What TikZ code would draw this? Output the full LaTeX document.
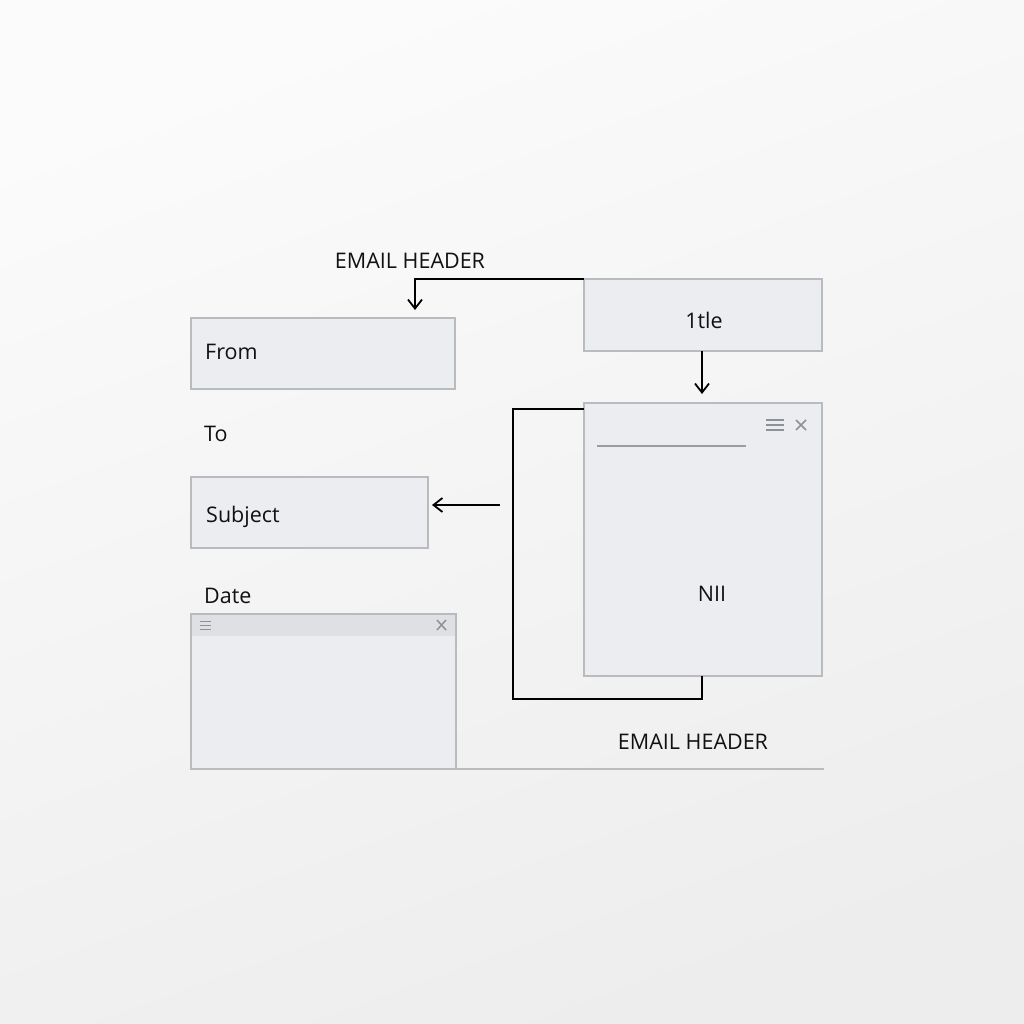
\documentclass[tikz,border=0pt]{standalone}
\usepackage{fontspec}
\setmainfont{Open Sans}
\usetikzlibrary{arrows.meta}
\definecolor{boxfill}{HTML}{EBEDF0}
\definecolor{boxline}{HTML}{B9BCBF}
\definecolor{barfill}{HTML}{DEE0E3}
\definecolor{iconc}{HTML}{8E9195}
\definecolor{textc}{HTML}{111111}
\tikzset{
  box/.style={draw=boxline, fill=boxfill, line width=1.2pt, inner sep=0pt},
  lbl/.style={text=textc, font=\fontsize{21.5}{25}\selectfont, inner sep=0pt},
  conn/.style={draw=black, line width=1.8pt},
  arr/.style={conn, -{Straight Barb[length=9pt,width=14pt,line width=1.8pt]}},
  icon/.style={draw=iconc, line width=1.5pt},
}
\begin{document}
\begin{tikzpicture}[x=1pt,y=-1pt]
\shade[top color=white!60!gray!8, bottom color=gray!14, shading angle=20]
  (0,0) rectangle (1024,1024);
\useasboundingbox (0,0) rectangle (1024,1024);
% labels
\node[lbl] (eh1) at (410,261) {EMAIL HEADER};
\node[lbl] (eh2) at (693,742) {EMAIL HEADER};
% title box
\draw[box] (584,279) rectangle (822,351);
\node[lbl] (title) at (704,320) {1tle};
\coordinate (titleTL) at (584,279);
\coordinate (titleB) at (702,351);
% from box
\draw[box] (191,318) rectangle (455,389);
\node[lbl, anchor=west] (from) at (205,352) {From};
\coordinate (fromT) at (415,310);
% To
\node[lbl, anchor=west] (to) at (204,434) {To};
% subject
\draw[box] (191,477) rectangle (428,548);
\node[lbl, anchor=west] (subj) at (206,517) {Subject};
\coordinate (subjR) at (432,505);
\coordinate (subjArrS) at (500,505);
% date
\node[lbl, anchor=west] (date) at (204,596) {Date};
% small window
\draw[box] (191,614) rectangle (456,769);
\fill[barfill] (191.6,614.6) rectangle (455.4,636);
\draw[icon, line width=1pt] (200,621) -- (211,621) (200,625) -- (211,625) (200,629) -- (211,629);
\draw[icon] (437,620) -- (446,630) (437,630) -- (446,620);
% bottom rule
\draw[draw=boxline, line width=1.5pt] (456,769) -- (824,769);
% big window
\draw[box] (584,403) rectangle (822,676);
\node[lbl] (nii) at (712,594) {NII};
\draw[draw=iconc!90, line width=1.6pt] (597,446) -- (746,446);
\draw[icon] (766,420) -- (784,420) (766,425) -- (784,425) (766,430) -- (784,430);
\draw[icon] (796,420) -- (806,430) (796,430) -- (806,420);
\coordinate (winTL) at (584,409);
\coordinate (winB) at (702,676);
\coordinate (winT) at (702,394);
% connectors
\draw[arr] (titleTL) -| (fromT);
\draw[arr] (titleB) -- (winT);
\draw[arr] (subjArrS) -- (subjR);
\draw[conn] (winTL) -- (513,409) -- (513,699) -- (702,699) -- (winB);
\end{tikzpicture}
\end{document}
